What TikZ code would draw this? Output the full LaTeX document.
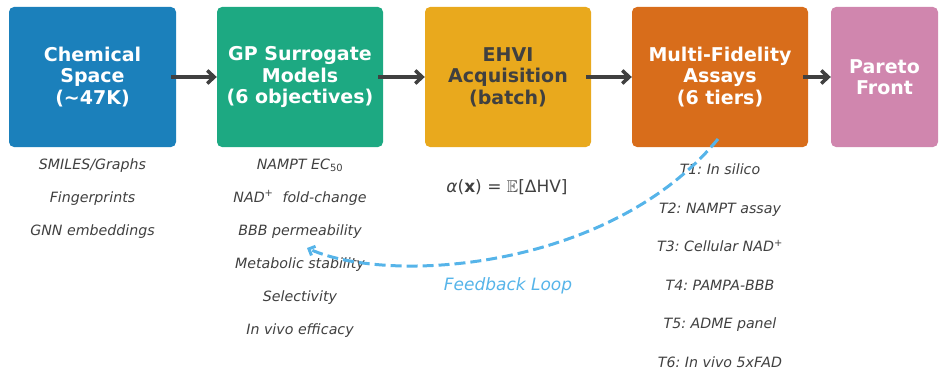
\documentclass[tikz,border=0pt]{standalone}
\usepackage{amssymb}
\usepackage{fontspec}
\setmainfont{DejaVu Sans}
\usetikzlibrary{arrows.meta}
\frenchspacing
\definecolor{cblue}{RGB}{27,128,187}
\definecolor{cgreen}{RGB}{29,169,130}
\definecolor{cyellow}{RGB}{233,169,29}
\definecolor{corange}{RGB}{216,109,27}
\definecolor{cpink}{RGB}{208,134,174}
\definecolor{cdark}{RGB}{64,64,64}
\definecolor{clight}{RGB}{86,180,233}
\newcommand{\mysub}[1]{\textsubscript{\upshape #1}}
\newcommand{\mysup}[1]{\textsuperscript{\upshape #1}}
\tikzset{
  stagebox/.style={rectangle, rounded corners=5pt, inner sep=0pt, minimum height=140pt,
    align=center, text=white, font=\fontsize{19}{21.5}\selectfont\bfseries},
  sublabel/.style={anchor=base, inner sep=0pt, text=cdark, font=\fontsize{14.2}{16}\selectfont\itshape},
  flow/.style={draw=cdark, line width=3.5pt, -{Straight Barb[length=7pt,width=13pt]}, shorten <=-5pt},
  feedback/.style={draw=clight, line width=3pt, dash pattern=on 11pt off 5pt,
    -{Straight Barb[length=5pt,width=10pt]}}
}
\begin{document}
\begin{tikzpicture}[x=1pt,y=-1pt]
\useasboundingbox (0,0) rectangle (939,369);
% stage boxes
\node[stagebox, fill=cblue, minimum width=167pt] (b1) at (92.5,77) {Chemical\\Space\\(\textasciitilde 47K)};
\node[stagebox, fill=cgreen, minimum width=166pt] (b2) at (300,77) {GP Surrogate\\Models\\(6 objectives)};
\node[stagebox, fill=cyellow, minimum width=166pt, text=cdark] (b3) at (508,77) {EHVI\\Acquisition\\(batch)};
\node[stagebox, fill=corange, minimum width=176pt] (b4) at (720,77) {Multi-Fidelity\\Assays\\(6 tiers)};
\node[stagebox, fill=cpink, minimum width=107pt] (b5) at (884.5,77) {Pareto\\Front};
% flow arrows
\draw[flow] (b1) -- (b2);
\draw[flow] (b2) -- (b3);
\draw[flow] (b3) -- (b4);
\draw[flow] (b4) -- (b5);
% chemical space labels
\node[sublabel] (l11) at (92.5,169) {SMILES/Graphs};
\node[sublabel] (l12) at (92.5,202) {Fingerprints};
\node[sublabel] (l13) at (92.5,235) {GNN embeddings};
% surrogate labels
\node[sublabel] (l21) at (300,169) {NAMPT EC\mysub{50}};
\node[sublabel] (l22) at (300,202) {NAD\mysup{+}\ \ fold-change};
\node[sublabel] (l23) at (300,235) {BBB permeability};
\node[sublabel] (l24) at (300,268) {Metabolic stability};
\node[sublabel] (l25) at (300,301) {Selectivity};
\node[sublabel] (l26) at (300,334) {In vivo efficacy};
% acquisition formula
\node[anchor=base, inner sep=0pt, text=cdark, font=\fontsize{17}{19}\selectfont] (f1) at (507,192)
  {{\itshape α}(\textbf{x}) = $\mathbb{E}$[ΔHV]};
% assay tiers
\node[sublabel] (l41) at (720,174.5) {T1: In silico};
\node[sublabel] (l42) at (720,213) {T2: NAMPT assay};
\node[sublabel] (l43) at (720,251.5) {T3: Cellular NAD\mysup{+}};
\node[sublabel] (l44) at (720,290) {T4: PAMPA-BBB};
\node[sublabel] (l45) at (720,328.5) {T5: ADME panel};
\node[sublabel] (l46) at (720,367) {T6: In vivo 5xFAD};
% feedback loop
\coordinate (fbs) at (718,139);
\coordinate (fbe) at (307,248);
\draw[feedback] (fbs) .. controls (610,270) and (390,285) .. (fbe);
\node[anchor=base, inner sep=0pt, text=clight, font=\fontsize{17}{19}\selectfont\itshape] (fbl) at (508,290) {Feedback Loop};
\end{tikzpicture}
\end{document}
